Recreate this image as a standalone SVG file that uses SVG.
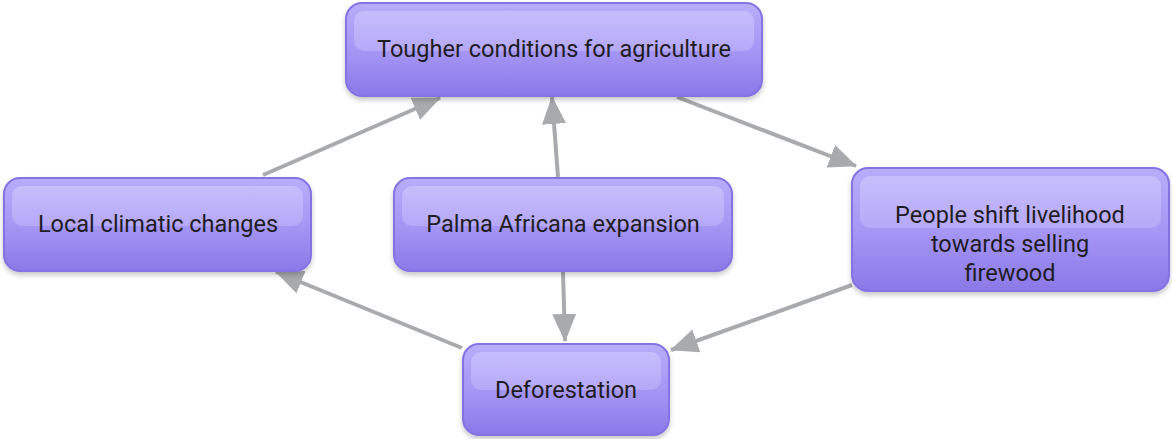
<svg xmlns="http://www.w3.org/2000/svg" width="1172" height="439" viewBox="0 0 1172 439">
  <defs>
    <linearGradient id="boxFill" x1="0" y1="0" x2="0" y2="1">
      <stop offset="0" stop-color="#b8adfb"/>
      <stop offset="0.5" stop-color="#a697f5"/>
      <stop offset="1" stop-color="#8b78e8"/>
    </linearGradient>
    <linearGradient id="gloss" x1="0" y1="0" x2="0" y2="1">
      <stop offset="0" stop-color="#d2cbfd" stop-opacity="0.6"/>
      <stop offset="1" stop-color="#c8befc" stop-opacity="0.45"/>
    </linearGradient>
    <filter id="shadow" x="-10%" y="-10%" width="120%" height="130%">
      <feDropShadow dx="0" dy="3" stdDeviation="2.5" flood-color="#000" flood-opacity="0.22"/>
    </filter>
    <marker id="head" viewBox="0 0 28 24" refX="27" refY="12" markerWidth="28" markerHeight="24" markerUnits="userSpaceOnUse" orient="auto">
      <path d="M0,0 L28,12 L0,24 Z" fill="#a9aaad"/>
    </marker>
  </defs>
  <style>
    .box { fill: url(#boxFill); stroke: #8573e4; stroke-width: 2; filter: url(#shadow); }
    .gloss { fill: url(#gloss); }
    .label { font-family: Roboto, "Liberation Sans", sans-serif; font-size: 23.5px; fill: #1f1d24; text-anchor: middle; }
    .edge { stroke: #a9aaad; stroke-width: 4; fill: none; marker-end: url(#head); }
  </style>

  <g id="connectors">
    <line class="edge" x1="263" y1="175" x2="440" y2="98"/>
    <line class="edge" x1="558" y1="177" x2="552" y2="97"/>
    <line class="edge" x1="677" y1="97" x2="856" y2="166"/>
    <line class="edge" x1="852" y1="285" x2="671" y2="350"/>
    <line class="edge" x1="563" y1="272" x2="565" y2="341"/>
    <line class="edge" x1="462" y1="348" x2="276" y2="272"/>
  </g>

  <g id="node-tougher">
    <rect class="box" x="346" y="3" width="416" height="93" rx="16"/>
    <rect class="gloss" x="354" y="11" width="400" height="40" rx="10"/>
    <text class="label" x="554" y="57">Tougher conditions for agriculture</text>
  </g>

  <g id="node-local">
    <rect class="box" x="4" y="178" width="307" height="93" rx="16"/>
    <rect class="gloss" x="12" y="186" width="291" height="40" rx="10"/>
    <text class="label" x="158" y="232">Local climatic changes</text>
  </g>

  <g id="node-palma">
    <rect class="box" x="394" y="178" width="338" height="93" rx="16"/>
    <rect class="gloss" x="402" y="186" width="322" height="40" rx="10"/>
    <text class="label" x="563" y="232">Palma Africana expansion</text>
  </g>

  <g id="node-people">
    <rect class="box" x="852" y="168" width="317" height="123" rx="16"/>
    <rect class="gloss" x="860" y="176" width="301" height="52" rx="10"/>
    <text class="label" x="1010" y="223">People shift livelihood</text>
    <text class="label" x="1010" y="252">towards selling</text>
    <text class="label" x="1010" y="281">firewood</text>
  </g>

  <g id="node-deforestation">
    <rect class="box" x="463" y="344" width="206" height="91" rx="16"/>
    <rect class="gloss" x="471" y="352" width="190" height="38" rx="10"/>
    <text class="label" x="566" y="398">Deforestation</text>
  </g>
</svg>
